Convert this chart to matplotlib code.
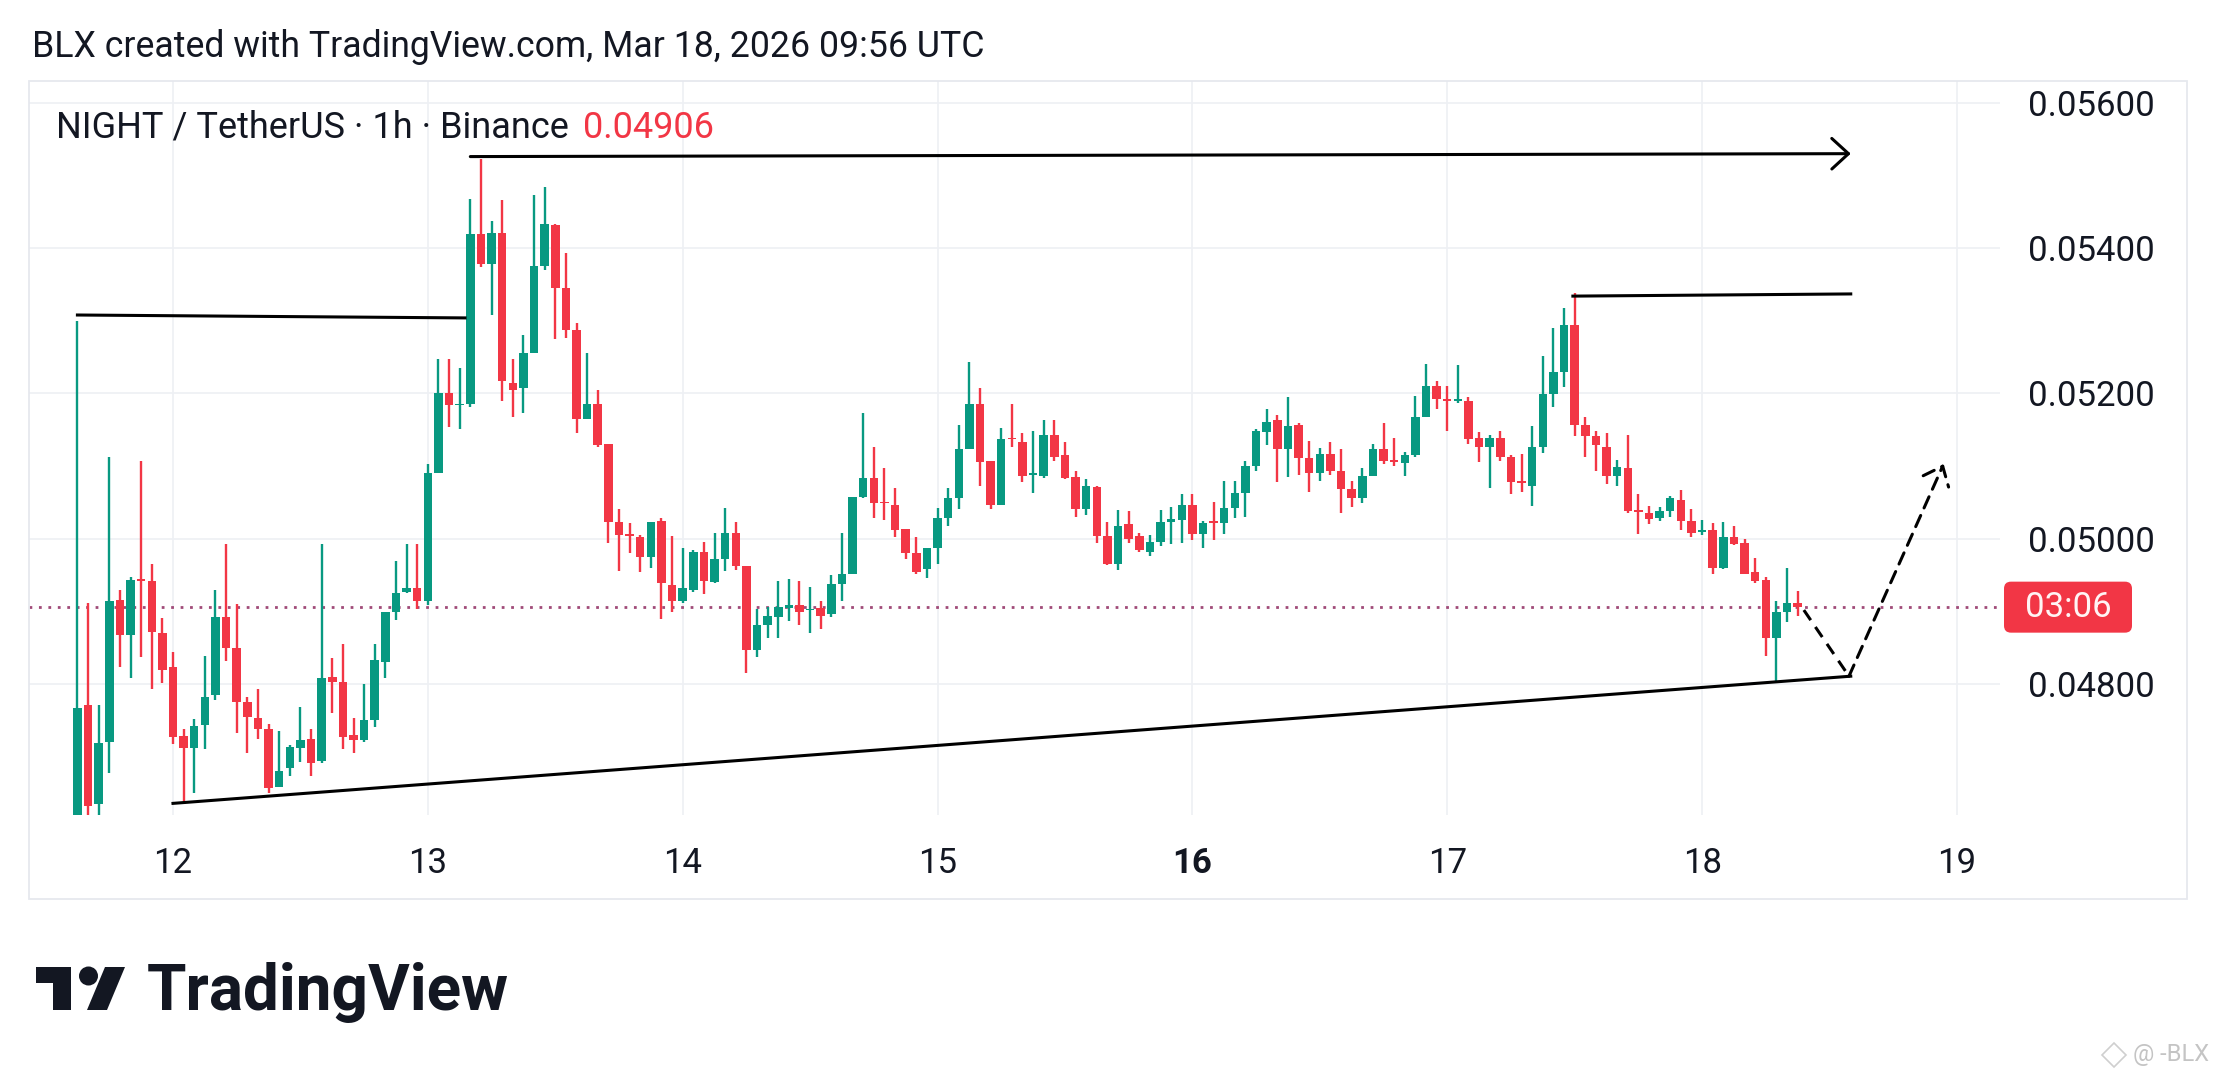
import numpy as np
import pandas as pd
import matplotlib
matplotlib.use("Agg")
import matplotlib.pyplot as plt
import matplotlib.dates as mdates
from matplotlib.patches import Rectangle, Polygon, Ellipse, FancyBboxPatch
from matplotlib.transforms import Affine2D

plt.rcParams['font.family'] = ['Roboto', 'DejaVu Sans']

# NIGHT/USDT 1h candles, Mar 11 15:00 -> Mar 18 09:00 (UTC)
opens = [0.04600, 0.04772, 0.04635, 0.04721, 0.04916, 0.04867, 0.04945, 0.04942, 0.04870, 0.04823,
         0.04729, 0.04712, 0.04744, 0.04785, 0.04893, 0.04850, 0.04775, 0.04754, 0.04739, 0.04659,
         0.04684, 0.04712, 0.04724, 0.04694, 0.04810, 0.04803, 0.04730, 0.04723, 0.04751, 0.04830,
         0.04899, 0.04927, 0.04933, 0.04915, 0.05090, 0.05201, 0.05184, 0.05186, 0.05419, 0.05378,
         0.05421, 0.05215, 0.05208, 0.05256, 0.05375, 0.05432, 0.05345, 0.05288, 0.05165, 0.05185,
         0.05130, 0.05023, 0.05006, 0.05002, 0.04975, 0.05024, 0.04937, 0.04915, 0.04930, 0.04982,
         0.04940, 0.04972, 0.05008, 0.04962, 0.04847, 0.04881, 0.04893, 0.04905, 0.04909, 0.04902,
         0.04905, 0.04896, 0.04938, 0.04952, 0.05057, 0.05084, 0.05051, 0.05047, 0.05014, 0.04981,
         0.04958, 0.04987, 0.05029, 0.05056, 0.05124, 0.05185, 0.05107, 0.05047, 0.05139, 0.05133,
         0.05088, 0.05087, 0.05143, 0.05115, 0.05085, 0.05041, 0.05072, 0.05004, 0.04966, 0.05020,
         0.05004, 0.04982, 0.04996, 0.05023, 0.05026, 0.05047, 0.05006, 0.05024, 0.05022, 0.05042,
         0.05063, 0.05100, 0.05147, 0.05163, 0.05124, 0.05157, 0.05111, 0.05091, 0.05117, 0.05094,
         0.05069, 0.05056, 0.05087, 0.05124, 0.05108, 0.05105, 0.05115, 0.05168, 0.05211, 0.05193,
         0.05190, 0.05190, 0.05139, 0.05127, 0.05139, 0.05113, 0.05079, 0.05073, 0.05127, 0.05199,
         0.05229, 0.05294, 0.05157, 0.05142, 0.05127, 0.05087, 0.05097, 0.05039, 0.05035, 0.05029,
         0.05038, 0.05054, 0.05024, 0.05009, 0.05012, 0.04960, 0.05002, 0.04994, 0.04954, 0.04944,
         0.04864, 0.04900, 0.04912]
highs = [0.05300, 0.04912, 0.04771, 0.05112, 0.04930, 0.04948, 0.05107, 0.04965, 0.04891, 0.04844,
         0.04739, 0.04752, 0.04839, 0.04930, 0.04993, 0.04910, 0.04783, 0.04793, 0.04745, 0.04735,
         0.04717, 0.04769, 0.04739, 0.04993, 0.04836, 0.04855, 0.04753, 0.04800, 0.04855, 0.04900,
         0.04969, 0.04993, 0.04993, 0.05103, 0.05248, 0.05247, 0.05235, 0.05467, 0.05523, 0.05438,
         0.05466, 0.05248, 0.05280, 0.05473, 0.05484, 0.05433, 0.05394, 0.05297, 0.05256, 0.05205,
         0.05131, 0.05041, 0.05022, 0.05005, 0.05023, 0.05028, 0.05004, 0.04988, 0.04984, 0.04996,
         0.05008, 0.05042, 0.05023, 0.04963, 0.04904, 0.04906, 0.04942, 0.04945, 0.04942, 0.04934,
         0.04915, 0.04950, 0.05008, 0.05057, 0.05173, 0.05127, 0.05097, 0.05070, 0.05014, 0.05002,
         0.04988, 0.05042, 0.05070, 0.05156, 0.05244, 0.05208, 0.05107, 0.05153, 0.05185, 0.05145,
         0.05149, 0.05163, 0.05163, 0.05133, 0.05093, 0.05082, 0.05073, 0.05023, 0.05039, 0.05038,
         0.05008, 0.05005, 0.05039, 0.05044, 0.05062, 0.05062, 0.05024, 0.05051, 0.05079, 0.05079,
         0.05107, 0.05151, 0.05179, 0.05171, 0.05195, 0.05159, 0.05135, 0.05125, 0.05133, 0.05124,
         0.05079, 0.05097, 0.05131, 0.05159, 0.05139, 0.05119, 0.05197, 0.05241, 0.05217, 0.05211,
         0.05239, 0.05195, 0.05147, 0.05143, 0.05148, 0.05115, 0.05117, 0.05155, 0.05251, 0.05290,
         0.05318, 0.05338, 0.05167, 0.05149, 0.05145, 0.05109, 0.05143, 0.05062, 0.05045, 0.05044,
         0.05059, 0.05067, 0.05041, 0.05026, 0.05022, 0.05023, 0.05018, 0.05000, 0.04974, 0.04948,
         0.04915, 0.04960, 0.04928]
lows = [0.04580, 0.04580, 0.04580, 0.04678, 0.04824, 0.04809, 0.04838, 0.04793, 0.04802, 0.04718,
        0.04635, 0.04650, 0.04711, 0.04778, 0.04832, 0.04733, 0.04705, 0.04724, 0.04650, 0.04658,
        0.04673, 0.04693, 0.04673, 0.04692, 0.04761, 0.04711, 0.04705, 0.04720, 0.04741, 0.04809,
        0.04888, 0.04925, 0.04904, 0.04909, 0.05090, 0.05154, 0.05151, 0.05181, 0.05374, 0.05308,
        0.05190, 0.05168, 0.05173, 0.05256, 0.05370, 0.05275, 0.05276, 0.05146, 0.05165, 0.05127,
        0.04994, 0.04956, 0.04981, 0.04954, 0.04960, 0.04890, 0.04900, 0.04912, 0.04927, 0.04924,
        0.04939, 0.04956, 0.04957, 0.04815, 0.04838, 0.04864, 0.04864, 0.04887, 0.04881, 0.04870,
        0.04876, 0.04893, 0.04915, 0.04951, 0.05056, 0.05029, 0.05026, 0.05002, 0.04972, 0.04951,
        0.04946, 0.04966, 0.05017, 0.05041, 0.05124, 0.05073, 0.05041, 0.05047, 0.05127, 0.05078,
        0.05063, 0.05084, 0.05107, 0.05082, 0.05030, 0.05033, 0.04994, 0.04964, 0.04957, 0.04994,
        0.04982, 0.04976, 0.04990, 0.04993, 0.04994, 0.04999, 0.04988, 0.04998, 0.05006, 0.05029,
        0.05030, 0.05093, 0.05129, 0.05078, 0.05085, 0.05088, 0.05065, 0.05079, 0.05088, 0.05035,
        0.05044, 0.05050, 0.05087, 0.05103, 0.05100, 0.05087, 0.05113, 0.05168, 0.05179, 0.05148,
        0.05187, 0.05130, 0.05106, 0.05070, 0.05107, 0.05062, 0.05065, 0.05045, 0.05118, 0.05181,
        0.05209, 0.05141, 0.05113, 0.05093, 0.05076, 0.05073, 0.05035, 0.05006, 0.05021, 0.05024,
        0.05030, 0.05012, 0.05002, 0.05005, 0.04952, 0.04959, 0.04992, 0.04952, 0.04939, 0.04839,
        0.04803, 0.04885, 0.04894]
closes = [0.04767, 0.04632, 0.04719, 0.04915, 0.04867, 0.04944, 0.04942, 0.04872, 0.04820, 0.04727,
          0.04712, 0.04743, 0.04783, 0.04893, 0.04850, 0.04776, 0.04755, 0.04739, 0.04657, 0.04681,
          0.04713, 0.04723, 0.04691, 0.04809, 0.04803, 0.04727, 0.04723, 0.04751, 0.04833, 0.04899,
          0.04926, 0.04932, 0.04915, 0.05090, 0.05201, 0.05184, 0.05186, 0.05419, 0.05378, 0.05421,
          0.05217, 0.05205, 0.05256, 0.05375, 0.05433, 0.05345, 0.05287, 0.05165, 0.05185, 0.05129,
          0.05023, 0.05005, 0.05004, 0.04975, 0.05023, 0.04939, 0.04915, 0.04932, 0.04982, 0.04942,
          0.04972, 0.05008, 0.04962, 0.04847, 0.04881, 0.04894, 0.04906, 0.04909, 0.04900, 0.04904,
          0.04894, 0.04938, 0.04952, 0.05057, 0.05084, 0.05050, 0.05049, 0.05012, 0.04981, 0.04954,
          0.04987, 0.05029, 0.05056, 0.05124, 0.05185, 0.05106, 0.05047, 0.05137, 0.05137, 0.05087,
          0.05090, 0.05143, 0.05113, 0.05084, 0.05041, 0.05073, 0.05004, 0.04966, 0.05018, 0.05000,
          0.04984, 0.04996, 0.05023, 0.05027, 0.05047, 0.05006, 0.05022, 0.05022, 0.05042, 0.05063,
          0.05100, 0.05148, 0.05161, 0.05124, 0.05155, 0.05111, 0.05091, 0.05117, 0.05094, 0.05069,
          0.05056, 0.05087, 0.05124, 0.05107, 0.05106, 0.05115, 0.05167, 0.05211, 0.05193, 0.05190,
          0.05192, 0.05137, 0.05127, 0.05139, 0.05112, 0.05078, 0.05077, 0.05127, 0.05199, 0.05229,
          0.05294, 0.05157, 0.05142, 0.05129, 0.05087, 0.05099, 0.05038, 0.05037, 0.05027, 0.05038,
          0.05056, 0.05024, 0.05008, 0.05012, 0.04960, 0.05002, 0.04993, 0.04952, 0.04942, 0.04864,
          0.04900, 0.04912, 0.04906]
times = pd.date_range("2026-03-11 15:00", periods=len(opens), freq="h")
last_price = 0.04906

price_ticks = [0.048, 0.050, 0.052, 0.054, 0.056]
day_ticks = pd.date_range("2026-03-12", "2026-03-19", freq="D")
day_labels = ["12", "13", "14", "15", "16", "17", "18", "19"]

# drawings (time, price)
level_left_t = ["2026-03-11 15:00", "2026-03-13 03:30"]
level_left_p = [0.05308, 0.05304]
level_top_t = ["2026-03-13 04:00", "2026-03-18 14:00"]
level_top_p = [0.05526, 0.05530]
level_mid_t = ["2026-03-17 11:50", "2026-03-18 14:00"]
level_mid_p = [0.05334, 0.05337]
trend_t = ["2026-03-12 00:00", "2026-03-18 14:00"]
trend_p = [0.04636, 0.04811]
proj_t = ["2026-03-18 09:35", "2026-03-18 13:50", "2026-03-18 22:45"]
proj_p = [0.04902, 0.04811, 0.05103]

GREEN = "#089981"
RED = "#F23645"
INK = "#131722"

W, H = 2217, 1080
fig = plt.figure(figsize=(W / 100, H / 100), dpi=100)
fig.patch.set_facecolor("white")
px = Affine2D().scale(1, -1).translate(0, H)  # pixel coords from top-left

ax = fig.add_axes([29 / W, 1 - 815 / H, (2000 - 29) / W, (815 - 81) / H])
for s in ax.spines.values():
    s.set_visible(False)

x = mdates.date2num(times)
o, hi, lo, c = (np.array(v) for v in (opens, highs, lows, closes))
cols = np.where(c >= o, GREEN, RED)
ax.vlines(x, lo, hi, colors=cols, lw=1.7, zorder=3)
ax.bar(x, np.maximum(np.abs(c - o), 0.000012), bottom=np.minimum(o, c),
       width=0.8 / 24, color=cols, lw=0, zorder=4)

d12 = mdates.date2num(pd.Timestamp("2026-03-12"))
d19 = mdates.date2num(pd.Timestamp("2026-03-19"))
ax.set_xlim(d12 - 0.565, d19 + 0.169)
ax.set_ylim(0.04620, 0.05630)

ax.set_xticks(mdates.date2num(day_ticks))
ax.set_xticklabels(day_labels)
for lab in ax.get_xticklabels():
    if lab.get_text() == "16":
        lab.set_fontweight("bold")
ax.set_yticks(price_ticks)
ax.set_yticklabels([f"{p:.5f}" for p in price_ticks])
ax.yaxis.tick_right()
ax.tick_params(axis="both", length=0, labelsize=25, colors=INK)
ax.tick_params(axis="x", pad=23)
ax.tick_params(axis="y", pad=20)
ax.grid(True, color="#eef0f4", lw=1.2, zorder=0)

ax.axhline(last_price, color="#a04a78", ls=(0, (1.0, 2.4)), lw=2.0, zorder=2)


def tnum(ts):
    return mdates.date2num(pd.to_datetime(ts))


ax.plot(tnum(level_left_t), level_left_p, color="black", lw=2.2, zorder=5)
ax.plot(tnum(level_mid_t), level_mid_p, color="black", lw=2.2, zorder=5)
ax.plot(tnum(trend_t), trend_p, color="black", lw=2.2, zorder=5)
tt = tnum(level_top_t)
ax.annotate("", xy=(tt[1], level_top_p[1]), xytext=(tt[0], level_top_p[0]),
            arrowprops=dict(arrowstyle="->,head_length=0.6,head_width=0.55", mutation_scale=20,
                            lw=2.2, color="black", shrinkA=0, shrinkB=0), zorder=5)
pt = tnum(proj_t)
ax.plot(pt[:2], proj_p[:2], color="black", lw=2.2, ls=(0, (4, 2.7)), zorder=5)
ax.annotate("", xy=(pt[2], proj_p[2]), xytext=(pt[1], proj_p[1]),
            arrowprops=dict(arrowstyle="->,head_length=0.6,head_width=0.5", mutation_scale=20,
                            lw=2.2, color="black", ls=(0, (4, 2.7)), shrinkA=0, shrinkB=0), zorder=5)

# outer frame
fig.add_artist(Rectangle((29, 81), 2158, 818, transform=px, fill=False, ec="#e6e8ee", lw=1.3))

# countdown label on the price axis
yc = H - ax.transData.transform((x[-1], last_price))[1]
fig.add_artist(FancyBboxPatch((2004, yc - 25.5), 128, 51, boxstyle="round,pad=0,rounding_size=7",
                              transform=px, fc=RED, ec="none"))
fig.text(2068, yc, "03:06", transform=px, ha="center", va="center", fontsize=25, color="#fff4f4")

# header
fig.text(32, 47, "BLX created with TradingView.com, Mar 18, 2026 09:56 UTC", transform=px,
         ha="left", va="center", fontsize=25.7, color=INK)
t1 = fig.text(56, 128, "NIGHT / TetherUS · 1h · Binance", transform=px,
              ha="left", va="center", fontsize=26, color=INK)
r = fig.canvas.get_renderer()
x_end = t1.get_window_extent(r).x1
fig.text(x_end + 14, 128, f"{last_price:.5f}", transform=px, ha="left", va="center",
         fontsize=26, color=RED)

# TradingView logo
fig.add_artist(Polygon([(36, 967), (71, 967), (71, 1010), (53, 1010), (53, 983), (36, 983)],
                       closed=True, transform=px, fc=INK, ec="none"))
fig.add_artist(Ellipse((88.5, 976), 19, 19, transform=px, fc=INK, ec="none"))
fig.add_artist(Polygon([(105, 967), (125, 967), (107, 1010), (87, 1010)],
                       closed=True, transform=px, fc=INK, ec="none"))
fig.text(147, 1010, "TradingView", transform=px, ha="left", va="baseline",
         fontsize=46, fontweight="bold", color=INK)

# watermark
fig.add_artist(Polygon([(2114, 1043), (2126, 1055), (2114, 1067), (2102, 1055)], closed=True,
                       transform=px, fill=False, ec="#cfcfcf", lw=1.2))
fig.text(2133, 1055, "@ -BLX", transform=px, ha="left", va="center", fontsize=17, color="#c4c4c4")

fig.savefig("out.png", dpi=100, facecolor="white")
